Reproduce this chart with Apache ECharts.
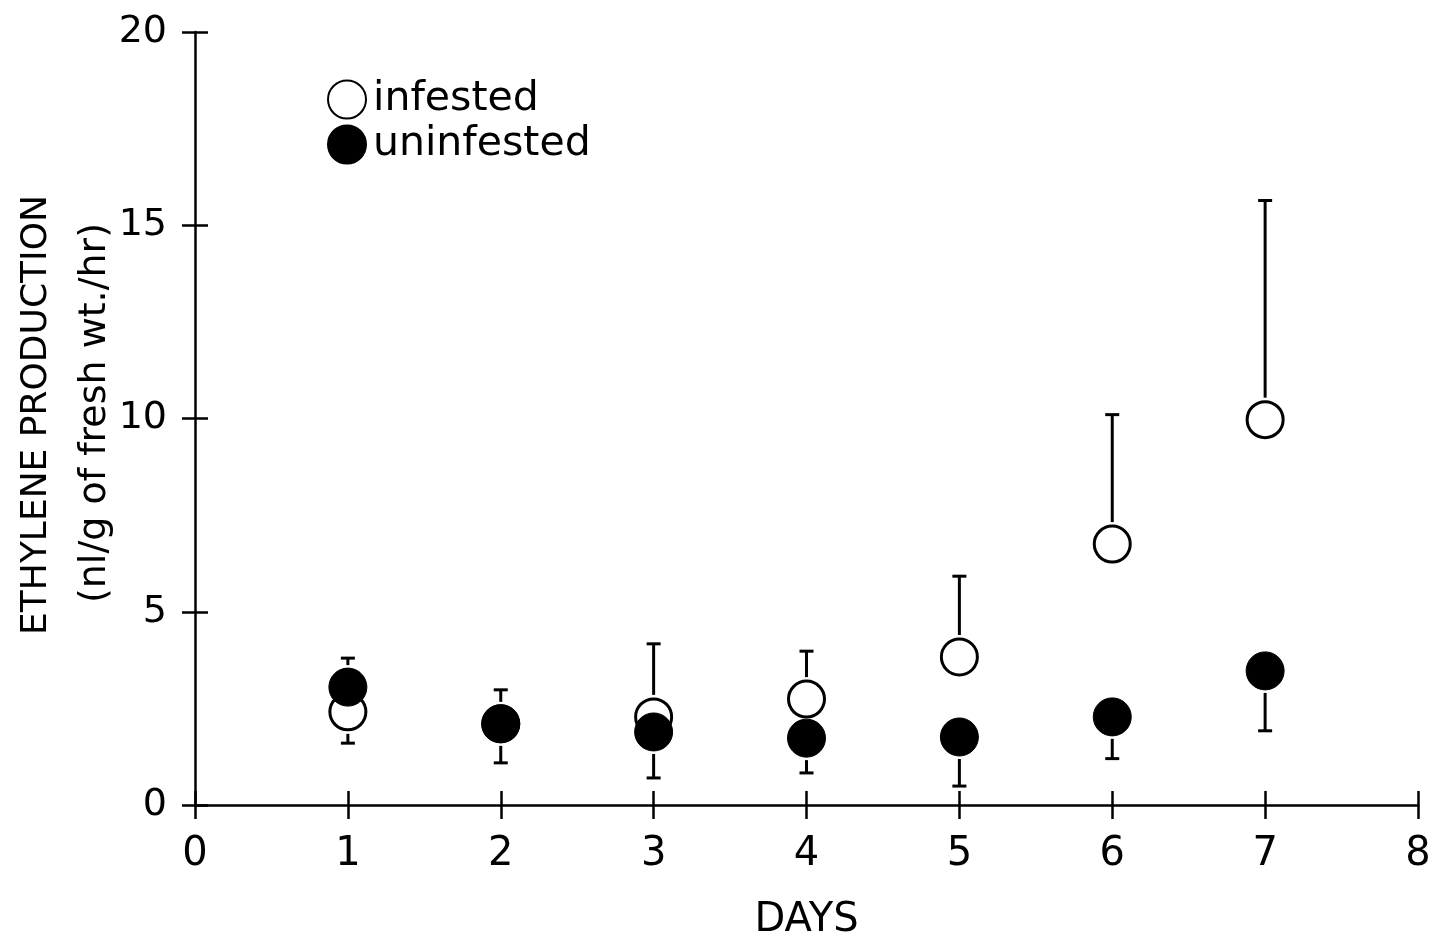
<!DOCTYPE html>
<html>
<head>
<meta charset="utf-8">
<script src="https://cdn.jsdelivr.net/npm/echarts@6/dist/echarts.min.js"></script>
<style>
  html, body { margin: 0; padding: 0; background: #fff; }
  #chart { width: 1435px; height: 938px; }
</style>
</head>
<body>
<div id="chart"></div>
<script>
// values
var days = [1, 2, 3, 4, 5, 6, 7];
var infested = [2.41, 2.10, 2.28, 2.74, 3.83, 6.75, 9.97];
var infestedBarEnd = [1.60, 2.98, 4.17, 3.98, 5.92, 10.10, 15.64];
var uninfested = [3.05, 2.10, 1.89, 1.73, 1.76, 2.28, 3.47];
var uninfestedBarEnd = [3.80, 1.09, 0.70, 0.83, 0.49, 1.20, 1.92];
var xTicks = [0, 1, 2, 3, 4, 5, 6, 7, 8];
var yTicks = [0, 5, 10, 15, 20];

var FONT = 'DejaVu Sans';
var R = 18; // marker radius

function pairs(ys){
    var out = [];
    for(var i=0;i<days.length;i++){
        out.push([days[i], ys[i]]);
    }
    return out;
}

function barData(ys, ends){
    var out = [];
    for(var i=0;i<days.length;i++){
        out.push([days[i], ys[i], ends[i]]);
    }
    return out;
}

function renderBar(params, api){
    var p0 = api.coord([api.value(0), api.value(1)]);
    var p1 = api.coord([api.value(0), api.value(2)]);
    var dir = p1[1] < p0[1] ? -1 : 1;
    var start = p0[1] + dir * (R + 4);
    var children = [];
    if((p1[1] - start) * dir > 0){
        children.push({
            type: 'line',
            shape: { x1: p0[0], y1: start, x2: p0[0], y2: p1[1] },
            style: { stroke: '#000', lineWidth: 3 }
        });
    }
    children.push({
        type: 'line',
        shape: { x1: p0[0] - 7, y1: p1[1], x2: p0[0] + 7, y2: p1[1] },
        style: { stroke: '#000', lineWidth: 3 }
    });
    return { type: 'group', children: children };
}

var chart = echarts.init(document.getElementById('chart'));

var axisLine = { show: true, onZero: false, lineStyle: { color: '#000', width: 2.5 } };

var option = {
    animation: false,
    backgroundColor: '#fff',
    grid: { left: 195, right: 17, top: 32, bottom: 133, outerBoundsMode: 'none', containLabel: false },
    legend: {
        data: ['infested', 'uninfested'],
        orient: 'vertical',
        left: 322,
        top: 74,
        itemWidth: 38,
        itemHeight: 38,
        itemGap: 4,
        textStyle: { fontFamily: FONT, fontSize: 41, color: '#000', padding: [0, 0, 0, 2] },
        selectedMode: false
    },
    xAxis: [
        {
            type: 'value', min: 0, max: 8, interval: 1, position: 'bottom',
            axisLine: axisLine,
            axisTick: { show: true, length: 14, lineStyle: { color: '#000', width: 2.5 } },
            axisLabel: { margin: 30, fontFamily: FONT, fontSize: 40, color: '#000' },
            splitLine: { show: false },
            name: 'DAYS', nameLocation: 'middle', nameGap: 96,
            nameTextStyle: { fontFamily: FONT, fontSize: 40, color: '#000' }
        },
        {
            type: 'value', min: 0, max: 8, interval: 1, position: 'bottom',
            axisLine: { show: false },
            axisTick: { show: true, inside: true, length: 14, lineStyle: { color: '#000', width: 2.5 } },
            axisLabel: { show: false },
            splitLine: { show: false }
        }
    ],
    yAxis: [
        {
            type: 'value', min: 0, max: 20, interval: 5, position: 'left',
            axisLine: axisLine,
            axisTick: { show: true, length: 13, lineStyle: { color: '#000', width: 2.5 } },
            axisLabel: { margin: 28, fontFamily: FONT, fontSize: 38, color: '#000' },
            splitLine: { show: false }
        },
        {
            type: 'value', min: 0, max: 20, interval: 5, position: 'left',
            axisLine: { show: false },
            axisTick: { show: true, inside: true, length: 13, lineStyle: { color: '#000', width: 2.5 } },
            axisLabel: { show: false },
            splitLine: { show: false }
        }
    ],
    graphic: [
        {
            type: 'text', x: 37, y: 415, rotation: Math.PI / 2,
            style: { text: 'ETHYLENE PRODUCTION', fill: '#000', font: '36px "DejaVu Sans"',
                     textAlign: 'center', textVerticalAlign: 'middle' }
        },
        {
            type: 'text', x: 95, y: 413, rotation: Math.PI / 2,
            style: { text: '(nl/g of fresh wt./hr)', fill: '#000', font: '38px "DejaVu Sans"',
                     textAlign: 'center', textVerticalAlign: 'middle' }
        }
    ],
    series: [
        {
            name: 'infestedBars', type: 'custom', renderItem: renderBar,
            data: barData(infested, infestedBarEnd), z: 1, silent: true
        },
        {
            name: 'uninfestedBars', type: 'custom', renderItem: renderBar,
            data: barData(uninfested, uninfestedBarEnd), z: 1, silent: true
        },
        {
            name: 'infested', type: 'scatter', symbol: 'circle', symbolSize: 2 * R,
            itemStyle: { color: '#fff', borderColor: '#000', borderWidth: 3, opacity: 1 },
            data: pairs(infested), z: 2
        },
        {
            name: 'uninfested', type: 'scatter', symbol: 'circle', symbolSize: 2 * R + 2,
            itemStyle: { color: '#000', borderColor: '#000', borderWidth: 1, opacity: 1 },
            data: pairs(uninfested), z: 3
        }
    ]
};

chart.setOption(option);
</script>
</body>
</html>
